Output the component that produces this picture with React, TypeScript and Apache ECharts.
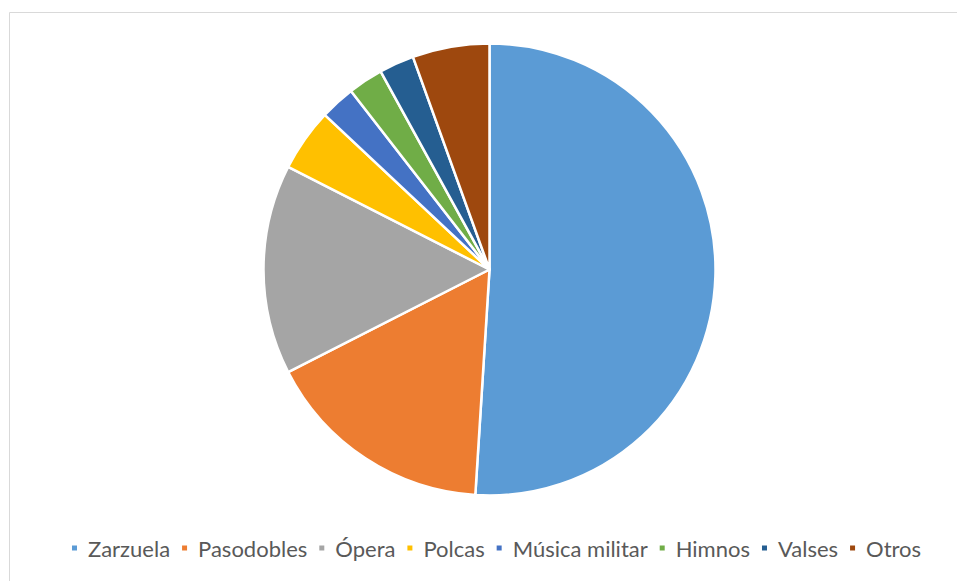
import React, { useEffect, useRef } from "react";
import * as echarts from "echarts";

const categories = ["Zarzuela", "Pasodobles", "Ópera", "Polcas", "Música militar", "Himnos", "Valses", "Otros"];
const values = [51, 16.5, 15, 4.5, 2.5, 2.5, 2.5, 5.5];
const colors = ["#5B9BD5", "#ED7D31", "#A5A5A5", "#FFC000", "#4472C4", "#70AD47", "#255E91", "#9E480E"];

export default function App() {
  const ref = useRef<HTMLDivElement>(null);
  useEffect(() => {
    if (!ref.current) return;
    const chart = echarts.init(ref.current, null, { renderer: "svg" });
    chart.setOption({
      animation: false,
      backgroundColor: "#ffffff",
      color: colors,
      graphic: [
        {
          type: "rect",
          shape: { x: 9.5, y: 12.5, width: 970, height: 600 },
          style: { fill: "none", stroke: "#d9d9d9", lineWidth: 1 },
          silent: true,
        },
      ],
      legend: {
        top: 536,
        left: 70,
        padding: 0,
        icon: "rect",
        itemWidth: 7,
        itemHeight: 7,
        itemGap: 10,
        textStyle: { fontSize: 22, lineHeight: 24, color: "#595959", fontFamily: "Lato", padding: [0, 0, 0, 5] },
        data: categories,
      },
      series: [
        {
          type: "pie",
          center: [489.5, 269.5],
          radius: 226,
          startAngle: 90,
          clockwise: true,
          label: { show: false },
          labelLine: { show: false },
          itemStyle: { borderColor: "#ffffff", borderWidth: 2.5 },
          emphasis: { disabled: true },
          data: categories.map((c, i) => ({ name: c, value: values[i] })),
        },
      ],
    });
    return () => chart.dispose();
  }, []);
  return <div ref={ref} style={{ position: "fixed", left: 0, top: 0, width: 957, height: 581 }} />;
}
